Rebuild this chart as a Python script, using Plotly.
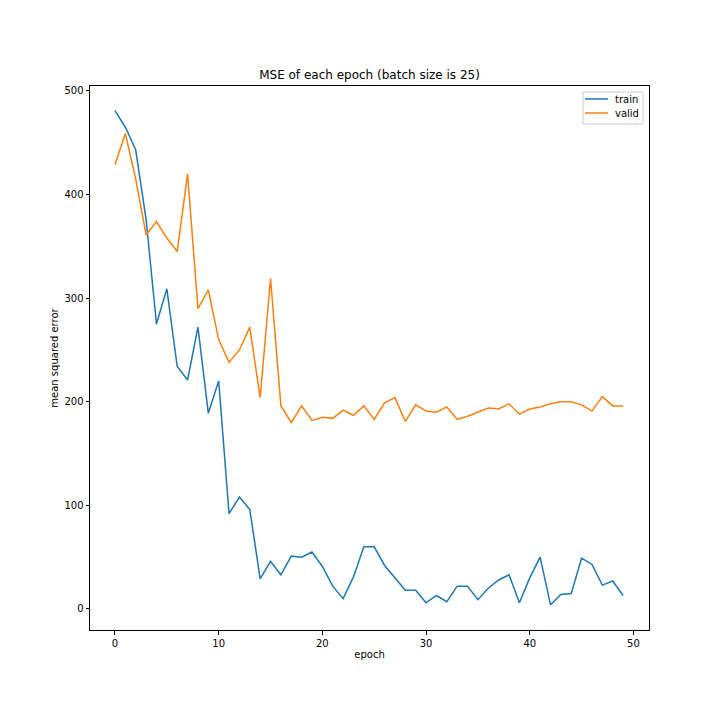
import plotly.graph_objects as go

epochs = list(range(50))
train = [481, 465, 443, 376, 275, 309, 234, 221, 272, 189, 220, 92, 108, 96, 29, 46,
         33, 51, 50, 55, 41, 22, 10, 31, 60, 60, 42, 30, 18, 18, 6, 13, 7, 22, 22, 9,
         20, 28, 33, 6, 30, 50, 4, 14, 15, 49, 43, 23, 27, 13]
valid = [429, 459, 415, 361, 374, 358, 345, 420, 290, 308, 260, 238, 250, 272, 204, 319,
         196, 180, 196, 182, 185, 184, 192, 187, 196, 183, 199, 204, 181, 197, 191, 190,
         195, 183, 186, 190, 194, 193, 198, 188, 193, 195, 198, 200, 200, 197, 191, 205,
         196, 196]
series_names = ["train", "valid"]
series_colors = ["#1f77b4", "#ff7f0e"]

fig = go.Figure()
for name, vals, col in zip(series_names, [train, valid], series_colors):
    fig.add_trace(go.Scatter(x=epochs, y=vals, mode="lines", name=name,
                             line=dict(color=col, width=1.5)))

axis_common = dict(showgrid=False, zeroline=False, showline=True, linecolor="black",
                   linewidth=1, mirror=True, ticks="outside", ticklen=3.5,
                   tickcolor="black", automargin=False,
                   tickfont=dict(size=10, color="black", family="DejaVu Sans"))

# page has an 8px body margin; compensate so the plot area lands at page 90..649 x 86..630
L, T, R, B = 82, 78, 79, 98
PW, PH = 720 - L - R, 720 - T - B

def px(fx):
    return (fx - L) / PW

def py(fy):
    return 1 - (fy - T) / PH

# manual legend (matplotlib style) in the upper right
shapes = [dict(type="rect", xref="paper", yref="paper",
               x0=px(575), x1=px(635), y0=py(116), y1=py(84),
               line=dict(color="#cccccc", width=1), fillcolor="rgba(255,255,255,0.8)",
               layer="above")]
annotations = []
for i, (name, col) in enumerate(zip(series_names, series_colors)):
    yy = py(91 + 14 * i)
    shapes.append(dict(type="line", xref="paper", yref="paper",
                       x0=px(577), x1=px(600), y0=yy, y1=yy,
                       line=dict(color=col, width=1.5), layer="above"))
    annotations.append(dict(x=px(605), y=yy, xref="paper", yref="paper",
                            text=name, showarrow=False, xanchor="left", yanchor="middle",
                            font=dict(size=10, color="black", family="DejaVu Sans")))

fig.update_layout(
    width=720, height=720,
    margin=dict(l=L, r=R, t=T, b=B, autoexpand=False),
    paper_bgcolor="white", plot_bgcolor="white",
    font=dict(family="DejaVu Sans", color="black"),
    title=dict(text="MSE of each epoch (batch size is 25)", x=0.5, xanchor="center",
               xref="paper",
               y=1 - 67 / 720, yanchor="middle", font=dict(size=12, color="black"),
               automargin=False),
    xaxis=dict(range=[-2.41, 51.5], tickvals=[0, 10, 20, 30, 40, 50],
               title=dict(text="epoch", font=dict(size=10), standoff=3), **axis_common),
    yaxis=dict(range=[-20.3, 504.8], tickvals=[0, 100, 200, 300, 400, 500],
               title=dict(text="mean squared error", font=dict(size=10), standoff=3),
               **axis_common),
    shapes=shapes,
    annotations=annotations,
    showlegend=False,
)

fig.write_html("out.html")
